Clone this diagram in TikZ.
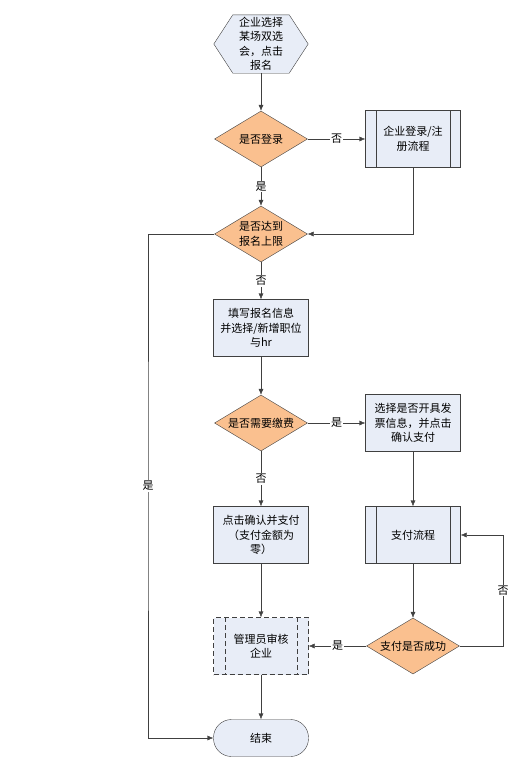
\documentclass[tikz,border=0pt]{standalone}
\usepackage{fontspec}
\setmainfont{Noto Sans CJK SC}
\usetikzlibrary{shapes.geometric,arrows.meta,backgrounds}

\definecolor{boxfill}{RGB}{232,237,247}
\definecolor{decfill}{RGB}{250,192,143}
\definecolor{linegray}{RGB}{64,64,64}

\tikzstyle{proc}=[rectangle,draw=linegray,fill=boxfill,minimum width=95pt,minimum height=57pt,align=center,inner sep=0pt]
\tikzstyle{decision}=[diamond,aspect=1.66,draw=linegray,fill=decfill,minimum width=93pt,minimum height=56pt,align=center,inner sep=0pt]
\tikzstyle{term}=[rectangle,rounded corners=18pt,draw=linegray,fill=boxfill,minimum width=95pt,minimum height=37pt]
\tikzstyle{flow}=[draw=linegray,-{Latex[length=6pt,width=5pt]}]
\tikzstyle{lbl}=[fill=white,inner sep=1pt]
\tikzstyle{dash5}=[dash pattern=on 5pt off 3pt]

\begin{document}
\begin{tikzpicture}[x=1pt,y=-1pt,font=\fontsize{11pt}{14.5pt}\selectfont]
  \useasboundingbox (0,0) rectangle (509,758);

  \node[minimum width=94pt,minimum height=58pt,align=center,inner sep=0pt] (start) at (261,44) {企业选择\\某场双选\\会，点击\\报名};
  \begin{scope}[on background layer]
    \draw[draw=linegray,fill=boxfill] (start.west) -- ([xshift=19pt]start.north west) -- ([xshift=-19pt]start.north east)
      -- (start.east) -- ([xshift=-19pt]start.south east) -- ([xshift=19pt]start.south west) -- cycle;
  \end{scope}

  \node[decision] (login) at (261,139) {是否登录};
  \node[proc] (reg) at (413,139) {企业登录/注\\册流程};
  \draw[linegray] ([xshift=11pt]reg.north west) -- ([xshift=11pt]reg.south west);
  \draw[linegray] ([xshift=-11pt]reg.north east) -- ([xshift=-11pt]reg.south east);

  \node[decision] (limit) at (261,234) {是否达到\\报名上限};
  \node[proc] (form) at (261,328) {填写报名信息\\并选择/新增职位\\与hr};

  \node[decision] (fee) at (261,423) {是否需要缴费};
  \node[proc] (invoice) at (413,423) {选择是否开具发\\票信息，并点击\\确认支付};

  \node[proc] (confirm) at (261,535) {点击确认并支付\\（支付金额为\\零）};
  \node[proc] (pay) at (413,535) {支付流程};
  \draw[linegray] ([xshift=11pt]pay.north west) -- ([xshift=11pt]pay.south west);
  \draw[linegray] ([xshift=-11pt]pay.north east) -- ([xshift=-11pt]pay.south east);

  \node[decision] (success) at (413,646) {支付是否成功};
  \node[proc,dash5] (audit) at (261,646) {管理员审核\\企业};
  \draw[linegray,dash5] ([xshift=12pt]audit.north west) -- ([xshift=12pt]audit.south west);
  \draw[linegray,dash5] ([xshift=-12pt]audit.north east) -- ([xshift=-12pt]audit.south east);

  \node[term] (end) at (261,738) {结束};

  \coordinate (bendL) at (148,486);
  \coordinate (loopR) at (503,646);

  % connectors
  \draw[flow] (start) -- (login);
  \draw[flow] (login) -- node[lbl] {否} (reg);
  \draw[flow] (login) -- node[lbl] {是} (limit);
  \draw[flow] (reg.south) |- (limit.east);
  \draw[flow] (limit) -- node[lbl] {否} (form);
  \draw[flow] (limit.west) -| (bendL) node[lbl] {是} |- (end.west);
  \draw[flow] (form) -- (fee);
  \draw[flow] (fee) -- node[lbl] {是} (invoice);
  \draw[flow] (fee) -- node[lbl] {否} (confirm);
  \draw[flow] (invoice) -- (pay);
  \draw[flow] (pay) -- (success);
  \draw[flow] (success.east) -- (loopR) |- node[lbl,pos=0.25] {否} (pay.east);
  \draw[flow] (success) -- node[lbl] {是} (audit);
  \draw[flow] (confirm) -- (audit);
  \draw[flow] (audit) -- (end);
\end{tikzpicture}
\end{document}
